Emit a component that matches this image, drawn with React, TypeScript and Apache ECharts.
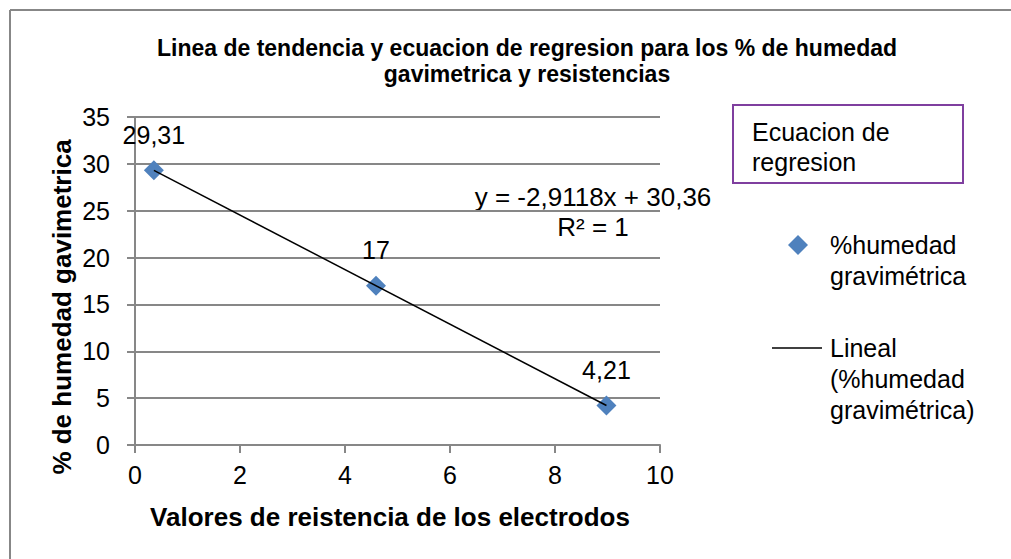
import React, { useEffect, useRef } from "react";
import * as echarts from "echarts";

// Measured points: electrode resistance vs gravimetric moisture (%)
const resistencia = [0.36, 4.59, 8.98];
const humedad = [29.31, 17, 4.21];
const humedadLabels = ["29,31", "17", "4,21"];

// Linear regression reported for the series
const pendiente = -2.9118;
const intercepto = 30.36;
const ecuacionTexto = "y = -2,9118x + 30,36";
const r2Texto = "R² = 1";

const xTicks = [0, 10, 2];
const yTicks = [0, 35, 5];

const FONT = "'Liberation Sans', Arial, sans-serif";
const GRID_GRAY = "#878787";
const AZUL = "#4F81BD";

export default function App() {
  const ref = useRef<HTMLDivElement>(null);

  useEffect(() => {
    if (!ref.current) return;
    const chart = echarts.init(ref.current, undefined, { renderer: "svg" });

    const puntos = resistencia.map((x, i) => [x, humedad[i]]);
    const xMin = Math.min(...resistencia);
    const xMax = Math.max(...resistencia);
    const tendencia = [
      [xMin, pendiente * xMin + intercepto],
      [xMax, pendiente * xMax + intercepto],
    ];

    chart.setOption({
      animation: false,
      backgroundColor: "#ffffff",
      textStyle: { fontFamily: FONT },
      title: {
        text:
          "Linea de tendencia y ecuacion de regresion para los % de humedad\ngavimetrica y resistencias",
        left: 522,
        top: 30,
        textAlign: "center",
        textStyle: {
          fontFamily: FONT,
          fontSize: 23,
          fontWeight: "bold",
          color: "#000",
          lineHeight: 26,
        },
      },
      grid: { left: 135, right: 351, top: 117, bottom: 114, containLabel: false },
      xAxis: {
        type: "value",
        min: xTicks[0],
        max: xTicks[1],
        interval: xTicks[2],
        axisLine: { show: true, lineStyle: { color: GRID_GRAY, width: 2 } },
        axisTick: { show: true, length: 8, lineStyle: { color: GRID_GRAY, width: 2 } },
        splitLine: { show: false },
        axisLabel: { fontSize: 25, color: "#000", margin: 17, fontFamily: FONT },
        name: "Valores de reistencia de los electrodos",
        nameLocation: "middle",
        nameGap: 59,
        nameTextStyle: {
          fontSize: 26,
          fontWeight: "bold",
          color: "#000",
          fontFamily: FONT,
          padding: [0, 15, 0, 0],
        },
      },
      yAxis: {
        type: "value",
        min: yTicks[0],
        max: yTicks[1],
        interval: yTicks[2],
        axisLine: { show: true, lineStyle: { color: GRID_GRAY, width: 2 } },
        axisTick: { show: true, length: 8, lineStyle: { color: GRID_GRAY, width: 2 } },
        splitLine: { show: true, lineStyle: { color: GRID_GRAY, width: 2 } },
        axisLabel: { fontSize: 25, color: "#000", margin: 25, fontFamily: FONT },
      },
      series: [
        {
          name: "Lineal (%humedad gravimétrica)",
          type: "line",
          data: tendencia,
          symbol: "none",
          lineStyle: { color: "#000", width: 1.5 },
          z: 3,
        },
        {
          name: "%humedad gravimétrica",
          type: "scatter",
          data: puntos,
          symbol: "diamond",
          symbolSize: 20,
          itemStyle: { color: AZUL, opacity: 1 },
          z: 2,
          label: {
            show: true,
            position: "top",
            distance: 13,
            fontSize: 25,
            color: "#000",
            fontFamily: FONT,
            formatter: (p: any) => humedadLabels[p.dataIndex],
          },
        },
      ],
      graphic: [
        // chart frame (left and top edges)
        {
          type: "line",
          shape: { x1: 10, y1: 10, x2: 1011, y2: 10 },
          style: { stroke: GRID_GRAY, lineWidth: 2 },
        },
        {
          type: "line",
          shape: { x1: 10, y1: 10, x2: 10, y2: 559 },
          style: { stroke: GRID_GRAY, lineWidth: 2 },
        },
        // vertical axis title
        {
          type: "text",
          x: 62,
          y: 307,
          rotation: Math.PI / 2,
          style: {
            text: "% de humedad gavimetrica",
            font: `bold 26px ${FONT}`,
            fill: "#000",
            align: "center",
            verticalAlign: "middle",
          },
        },
        // regression equation
        {
          type: "text",
          x: 593,
          y: 182,
          style: {
            text: `${ecuacionTexto}\n${r2Texto}`,
            font: `26px ${FONT}`,
            fill: "#000",
            align: "center",
            verticalAlign: "top",
            lineHeight: 30,
          },
        },
        // text box
        {
          type: "rect",
          shape: { x: 733, y: 105, width: 230, height: 78 },
          style: { fill: "#ffffff", stroke: "#7F3F9F", lineWidth: 2 },
        },
        {
          type: "text",
          x: 752,
          y: 117,
          style: {
            text: "Ecuacion de\nregresion",
            font: `25px ${FONT}`,
            fill: "#000",
            align: "left",
            verticalAlign: "top",
            lineHeight: 30,
          },
        },
        // legend: scatter series
        {
          type: "polygon",
          shape: {
            points: [
              [798, 235],
              [808, 245],
              [798, 255],
              [788, 245],
            ],
          },
          style: { fill: AZUL },
        },
        {
          type: "text",
          x: 830,
          y: 229.5,
          style: {
            text: "%humedad\ngravimétrica",
            font: `25px ${FONT}`,
            fill: "#000",
            align: "left",
            verticalAlign: "top",
            lineHeight: 31,
          },
        },
        // legend: trend line
        {
          type: "line",
          shape: { x1: 772, y1: 348, x2: 822, y2: 348 },
          style: { stroke: "#000", lineWidth: 1.5 },
        },
        {
          type: "text",
          x: 830,
          y: 332.5,
          style: {
            text: "Lineal\n(%humedad\ngravimétrica)",
            font: `25px ${FONT}`,
            fill: "#000",
            align: "left",
            verticalAlign: "top",
            lineHeight: 31,
          },
        },
      ],
    });

    return () => chart.dispose();
  }, []);

  return (
    <div
      ref={ref}
      style={{ position: "absolute", left: 0, top: 0, width: 1011, height: 559 }}
    />
  );
}
